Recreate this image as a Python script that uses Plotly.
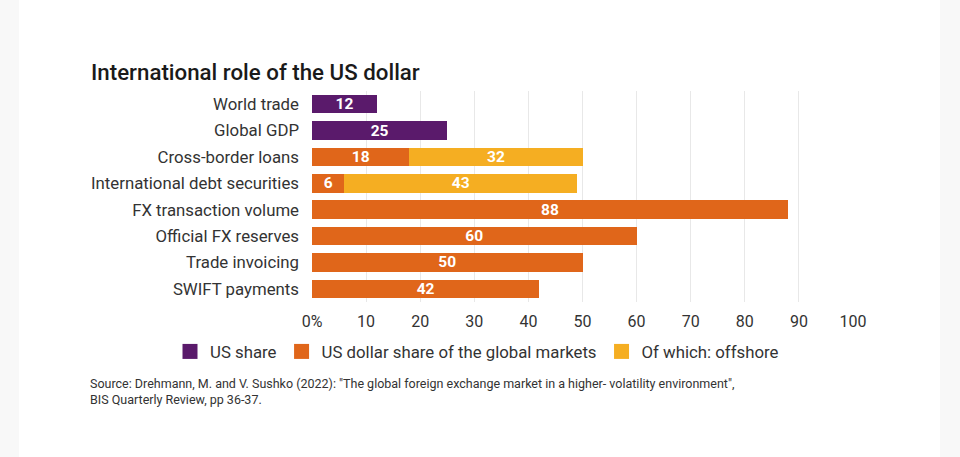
import plotly.graph_objects as go

categories = ["World trade", "Global GDP", "Cross-border loans", "International debt securities",
              "FX transaction volume", "Official FX reserves", "Trade invoicing", "SWIFT payments"]
us_share = [12, 25, None, None, None, None, None, None]
usd_share = [None, None, 18, 6, 88, 60, 50, 42]
offshore = [None, None, 32, 43, None, None, None, None]
tick_vals = [0, 10, 20, 30, 40, 50, 60, 70, 80, 90, 100]
tick_text = ["0%", "10", "20", "30", "40", "50", "60", "70", "80", "90", "100"]

PURPLE = "#5a1a6b"
ORANGE = "#e0661a"
YELLOW = "#f5ae22"
FONT = "Roboto"

W, H = 960, 457
L, R, T, B = 312, 107, 91, 155
pw = W - L - R
ph = H - T - B

def px2paper_x(px):
    return (px - L) / pw

def px2paper_y(py):
    return (H - B - py) / ph

def txt(vals):
    return [("" if v is None else str(v)) for v in vals]

series = [("US share", us_share, PURPLE),
          ("US dollar share of the global markets", usd_share, ORANGE),
          ("Of which: offshore", offshore, YELLOW)]

fig = go.Figure()
for name, vals, col in series:
    fig.add_trace(go.Bar(
        y=categories, x=vals, name=name, orientation="h", showlegend=False,
        marker=dict(color=col, line=dict(width=0)),
        text=txt(vals), textposition="inside", insidetextanchor="middle",
        constraintext="none",
        textangle=0, textfont=dict(family=FONT, size=15.5, color="white", weight="bold"),
        cliponaxis=False, hoverinfo="skip",
    ))
for name, vals, col in series:
    fig.add_trace(go.Scatter(
        x=[None], y=[None], mode="markers", name=name,
        marker=dict(symbol="square", size=15, color=col),
    ))

fig.update_layout(
    width=W, height=H,
    margin=dict(l=L, r=R, t=T, b=B),
    barmode="stack", bargap=0.3,
    plot_bgcolor="white", paper_bgcolor="white",
    font=dict(family=FONT, size=16, color="#333333"),
    showlegend=True,
    legend=dict(orientation="h", x=px2paper_x(170), y=px2paper_y(334), xanchor="left", yanchor="top",
                font=dict(family=FONT, size=16.8, color="#333333"),
                traceorder="normal", itemwidth=30, tracegroupgap=0),
    xaxis=dict(range=[0, 100], tickvals=tick_vals, ticktext=tick_text,
               showgrid=True, gridcolor="#e8e8e8", gridwidth=1, zeroline=False,
               showline=False, ticks="", ticklabelstandoff=8,
               tickfont=dict(family=FONT, size=16, color="#333333"), fixedrange=True),
    yaxis=dict(categoryorder="array", categoryarray=categories, autorange="reversed",
               showgrid=False, zeroline=False, showline=False, ticks="",
               ticklabelstandoff=12,
               tickfont=dict(family=FONT, size=16.8, color="#333333"), fixedrange=True),
    shapes=[
        dict(type="rect", xref="paper", yref="paper",
             x0=px2paper_x(0), x1=px2paper_x(19), y0=-2, y1=3,
             fillcolor="#f8f8f8", line=dict(width=0), layer="below"),
        dict(type="rect", xref="paper", yref="paper",
             x0=px2paper_x(940), x1=px2paper_x(960), y0=-2, y1=3,
             fillcolor="#f8f8f8", line=dict(width=0), layer="below"),
    ],
    annotations=[
        dict(text="International role of the US dollar", xref="paper", yref="paper",
             x=px2paper_x(89), y=px2paper_y(72), xanchor="left", yanchor="middle",
             showarrow=False, font=dict(family=FONT, size=22.3, color="#1a1a1a", weight=500)),
        dict(text="Source: Drehmann, M. and V. Sushko (2022): \"The global foreign exchange market in a higher- volatility environment\",<br>BIS Quarterly Review, pp 36-37.",
             xref="paper", yref="paper", x=px2paper_x(88), y=px2paper_y(374),
             xanchor="left", yanchor="top", align="left", showarrow=False,
             font=dict(family=FONT, size=12.5, color="#333333")),
    ],
)

fig.write_html("out.html", config={"displayModeBar": False},
               post_script="document.body.style.margin='0';")
